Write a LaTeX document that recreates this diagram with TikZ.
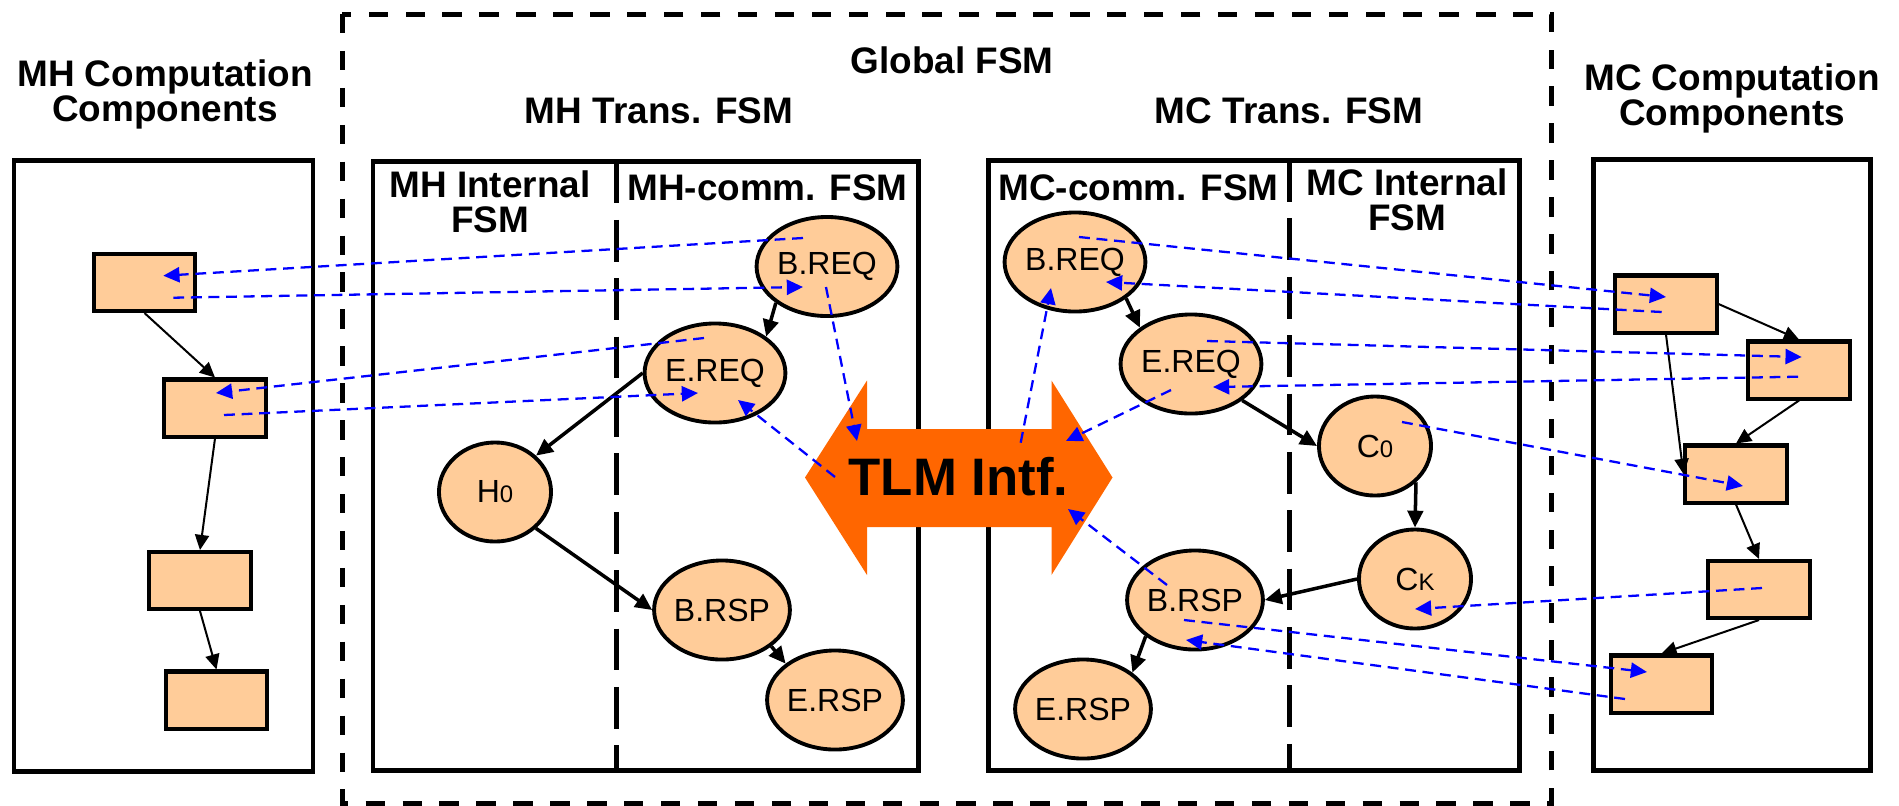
\documentclass[tikz,border=0pt]{standalone}
\usepackage{fontspec}
\setmainfont{Liberation Sans}
\usetikzlibrary{shapes.geometric,arrows.meta}
\definecolor{peach}{HTML}{FFCC99}
\definecolor{tlmorange}{HTML}{FF6600}
\definecolor{linkblue}{HTML}{0000FF}
\tikzset{
  bigbox/.style={draw, line width=1.42pt},
  outerdash/.style={draw, line width=1.42pt, dash pattern=on 5.5pt off 5pt},
  divider/.style={line width=1.42pt, dash pattern=on 11.9pt off 4.7pt},
  heading/.style={font=\bfseries\fontsize{10.5pt}{9.96pt}\selectfont, inner sep=0pt, align=center},
  state/.style={ellipse, draw, line width=1.1pt, fill=peach, minimum width=1.12cm,
    minimum height=0.99cm, inner sep=0pt, font=\fontsize{9.1pt}{10pt}\selectfont},
  comp/.style={rectangle, draw, line width=1.14pt, fill=peach, minimum width=1.01cm,
    minimum height=0.57cm, inner sep=0pt},
  trans/.style={line width=1pt, -{Triangle[length=4.8pt,width=4.4pt]}},
  flow/.style={line width=0.57pt, -{Triangle[length=4.3pt,width=4pt]}},
  link/.style={linkblue, line width=0.65pt, dash pattern=on 3.1pt off 1.9pt,
    -{Triangle[length=4.6pt,width=4.3pt]}},
}
\newcommand{\smallidx}[1]{{\fontsize{6.8pt}{7pt}\selectfont #1}}
\begin{document}
\begin{tikzpicture}[x=0.01cm, y=-0.01cm]
\useasboundingbox (0,0) rectangle (1899,805);

% frames
\draw[bigbox] (14,160.5) rectangle (313,771);
\draw[bigbox] (373,161.5) rectangle (918,770.5);
\draw[bigbox] (988,160) rectangle (1519.5,770);
\draw[bigbox] (1593,159.5) rectangle (1870.5,770);
\draw[divider] (616.5,161.5) -- (616.5,770.5);
\draw[divider] (1289.3,160) -- (1289.3,770);
\draw[outerdash] (342.3,14) rectangle (1551.6,803);

% headings
\node[heading, anchor=north] (mhcomp) at (165,59) {MH Computation\\Components};
\node[heading, anchor=north] (mccomp) at (1732,63) {MC Computation\\Components};
\node[heading, anchor=base] (global) at (952,73) {Global FSM};
\node[heading, anchor=base] (mhtrans) at (659,123) {MH Trans. FSM};
\node[heading, anchor=base] (mctrans) at (1289,123) {MC Trans. FSM};
\node[heading, anchor=north] (mhint) at (490,170.5) {MH Internal\\FSM};
\node[heading, anchor=base] (mhcomm) at (767.5,200) {MH-comm. FSM};
\node[heading, anchor=base] (mccomm) at (1138.5,200) {MC-comm. FSM};
\node[heading, anchor=north] (mcint) at (1407,168.5) {MC Internal\\FSM};

% computation components
\node[comp] (L1) at (144.5,282.5) {};
\node[comp] (L2) at (215,408) {};
\node[comp] (L3) at (200,580.5) {};
\node[comp] (L4) at (216.5,700) {};
\node[comp] (R1) at (1666,304) {};
\node[comp] (R2) at (1799,370) {};
\node[comp] (R3) at (1736,474) {};
\node[comp] (R4) at (1759,589.5) {};
\node[comp] (R5) at (1661.5,684) {};

\draw[flow] (L1.south) -- (L2.north);
\draw[flow] (L2.south) -- (L3.north);
\draw[flow] (L3.south) -- (L4.north);
\draw[flow] (R1.east) -- (R2.north);
\draw[flow] (R1.south) -- (R3.west);
\draw[flow] (R2.south) -- (R3.north);
\draw[flow] (R3.south) -- (R4.north);
\draw[flow] (R4.south) -- (R5.north);

% states
\node[state] (mhbreq) at (827,266.5) {B.REQ};
\node[state] (mhereq) at (715,373) {E.REQ};
\node[state] (h0) at (495,492) {H\smallidx{0}};
\node[state] (mhbrsp) at (722,610) {B.RSP};
\node[state] (mhersp) at (835,700) {E.RSP};
\node[state] (mcbreq) at (1075,262) {B.REQ};
\node[state] (mcereq) at (1191,364) {E.REQ};
\node[state] (c0) at (1375,446) {C\smallidx{0}};
\node[state] (ck) at (1415,579) {C\smallidx{K}};
\node[state] (mcbrsp) at (1195,600) {B.RSP};
\node[state] (mcersp) at (1083,709) {E.RSP};

\draw[trans] (mhbreq.south west) -- (mhereq.north east);
\draw[trans] (mhereq.west) -- (h0.north east);
\draw[trans] (h0.south east) -- (mhbrsp.west);
\draw[trans] (mhbrsp.south east) -- (mhersp.north west);
\draw[trans] (mcbreq.south east) -- (mcereq.north west);
\draw[trans] (mcereq.south east) -- (c0.west);
\draw[trans] (c0.south east) -- (ck.north);
\draw[trans] (ck.west) -- (mcbrsp.east);
\draw[trans] (mcbrsp.south west) -- (mcersp.north east);

% transaction-level interface
\fill[tlmorange] (805,477.5) -- (867,380.5) -- (867,429) -- (1051.5,429)
  -- (1051.5,380.5) -- (1112.5,477.5) -- (1051.5,575) -- (1051.5,527)
  -- (867,527) -- (867,575) -- cycle;
\node[font=\bfseries\fontsize{15pt}{15pt}\selectfont, inner sep=0pt, anchor=base]
  (tlm) at (958.5,495) {TLM Intf.};

% link end points
\coordinate (p1s) at (803,238);     \coordinate (p1e) at (163.3,275.7);
\coordinate (p2s) at (173.3,297.7); \coordinate (p2e) at (803,287);
\coordinate (p3s) at (704,338);     \coordinate (p3e) at (216,393);
\coordinate (p4s) at (224,415);     \coordinate (p4e) at (698,393);
\coordinate (p5s) at (826,287);     \coordinate (p5e) at (857,441);
\coordinate (p6s) at (835,477);     \coordinate (p6e) at (738,400);
\coordinate (p7s) at (1020.7,442.7);\coordinate (p7e) at (1051,288);
\coordinate (p8s) at (1171,390);    \coordinate (p8e) at (1066,441);
\coordinate (p9s) at (1167,585);    \coordinate (p9e) at (1068,509);
\coordinate (q1s) at (1079,237);    \coordinate (q1e) at (1666,297);
\coordinate (q2s) at (1661.7,312);  \coordinate (q2e) at (1106,282);
\coordinate (q3s) at (1207,341);    \coordinate (q3e) at (1801.7,357);
\coordinate (q4s) at (1798,376.7);  \coordinate (q4e) at (1213,387);
\coordinate (q5s) at (1402,422);    \coordinate (q5e) at (1743,486);
\coordinate (q6s) at (1762,588);    \coordinate (q6e) at (1415,609);
\coordinate (q7s) at (1184,620);    \coordinate (q7e) at (1647,672);
\coordinate (q8s) at (1625,699);    \coordinate (q8e) at (1186,640);

% links between components and states
\foreach \a/\b in {p1s/p1e,p2s/p2e,p3s/p3e,p4s/p4e,p5s/p5e,p6s/p6e,p7s/p7e,
  p8s/p8e,p9s/p9e,q1s/q1e,q2s/q2e,q3s/q3e,q4s/q4e,q5s/q5e,q6s/q6e,q7s/q7e,q8s/q8e}
  \draw[link] (\a) -- (\b);
\end{tikzpicture}
\end{document}
